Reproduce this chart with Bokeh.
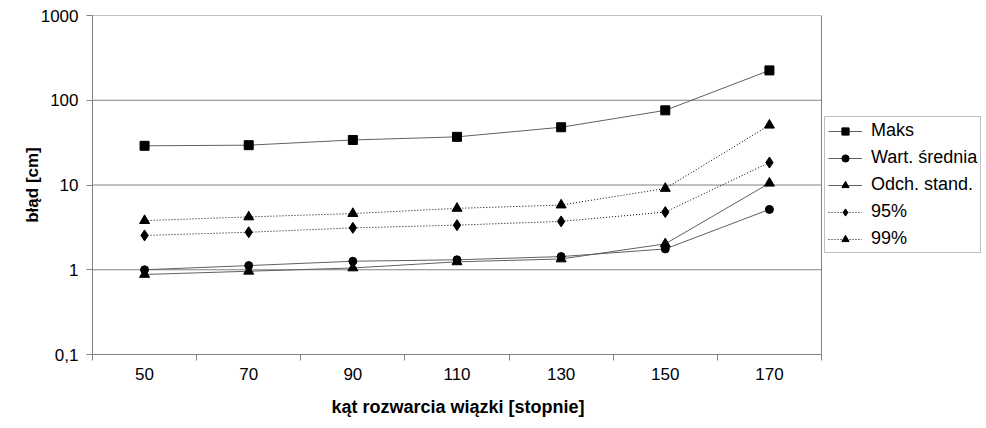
from bokeh.plotting import figure
from bokeh.models import FixedTicker, Legend, LegendItem, Range1d, Span, Title
from bokeh.embed import file_html
from bokeh.resources import INLINE

angles = [50, 70, 90, 110, 130, 150, 170]
maks = [29, 29.5, 34, 37, 48, 76, 225]
srednia = [1.0, 1.12, 1.26, 1.31, 1.43, 1.76, 5.15]
odch = [0.88, 0.96, 1.05, 1.24, 1.34, 2.02, 10.5]
p95 = [2.54, 2.77, 3.12, 3.36, 3.72, 4.79, 18.4]
p99 = [3.8, 4.2, 4.6, 5.3, 5.8, 9.1, 50.8]
y_ticks = [0.1, 1, 10, 100, 1000]
y_tick_labels = ["0,1", "1", "10", "100", "1000"]
x_bounds = [40, 60, 80, 100, 120, 140, 160, 180]

FONT = "Liberation Sans"
GRAY = "#808080"

# plot area spans x 40..180; the frame is widened to the right so the
# legend can sit beside the plot area without being clipped
x_end = 40 + (985 - 92) / (821 - 92) * 140

p = figure(width=986, height=428, y_axis_type="log",
           x_range=Range1d(40, x_end), y_range=Range1d(0.1, 1000),
           output_backend="svg", toolbar_location=None,
           min_border_left=92, min_border_right=1,
           min_border_top=15, min_border_bottom=74)
p.outline_line_color = None
p.background_fill_color = "white"
p.border_fill_color = "white"

p.xgrid.visible = False
p.ygrid.visible = False
p.segment(x0=x_bounds[0], x1=x_bounds[-1], y0=y_ticks, y1=y_ticks,
          line_color=GRAY, line_width=1)
p.add_layout(Span(location=x_bounds[-1], dimension="height",
                  line_color=GRAY, line_width=1))

# y axis
p.yaxis.ticker = FixedTicker(ticks=y_ticks)
p.yaxis.major_label_overrides = {t: l for t, l in zip(y_ticks, y_tick_labels)}
p.yaxis.major_tick_out = 6
p.yaxis.major_tick_in = 0
p.yaxis.minor_tick_out = 0
p.yaxis.minor_tick_in = 0
p.yaxis.axis_line_color = GRAY
p.yaxis.major_tick_line_color = GRAY
p.yaxis.major_label_text_font = FONT
p.yaxis.major_label_text_font_size = "17px"
p.yaxis.major_label_text_color = "black"
p.yaxis.major_label_standoff = 8
p.yaxis.axis_label = "błąd [cm]"
p.yaxis.axis_label_text_font = FONT
p.yaxis.axis_label_text_font_style = "bold"
p.yaxis.axis_label_text_font_size = "17px"
p.yaxis.axis_label_text_color = "black"
p.yaxis.axis_label_standoff = -4

# x axis
p.xaxis.ticker = FixedTicker(ticks=angles, minor_ticks=x_bounds)
p.xaxis.bounds = (x_bounds[0], x_bounds[-1])
p.xaxis.major_tick_out = 0
p.xaxis.major_tick_in = 0
p.xaxis.minor_tick_out = 6
p.xaxis.minor_tick_in = 0
p.xaxis.minor_tick_line_color = GRAY
p.xaxis.axis_line_color = GRAY
p.xaxis.major_label_text_font = FONT
p.xaxis.major_label_text_font_size = "17px"
p.xaxis.major_label_text_color = "black"
p.xaxis.major_label_standoff = 7

xlabel = Title(text="kąt rozwarcia wiązki [stopnie]", align="left", offset=239,
               text_font=FONT, text_font_style="bold", text_font_size="18px",
               text_color="black", standoff=24)
p.add_layout(xlabel, "below")

LINE = "#606060"
items = []
series = [
    ("Maks", maks, "square", 9, "solid", LINE),
    ("Wart. średnia", srednia, "circle", 8, "solid", LINE),
    ("Odch. stand.", odch, "triangle", 10, "solid", LINE),
    ("95%", p95, "diamond", 11, "1 2", "black"),
    ("99%", p99, "triangle", 10, "1 2", "black"),
]
for name, vals, marker, size, dash, lc in series:
    l = p.line(angles, vals, line_color=lc, line_width=1, line_dash=dash)
    s = p.scatter(angles, vals, marker=marker, size=size,
                  fill_color="black", line_color="black")
    items.append(LegendItem(label=name, renderers=[l, s]))

legend = Legend(items=items, location=(732, 101))
legend.label_text_font = FONT
legend.label_text_font_size = "18px"
legend.label_text_color = "black"
legend.glyph_width = 34
legend.glyph_height = 18
legend.label_height = 18
legend.spacing = 6
legend.padding = 3
legend.margin = 0
legend.border_line_color = GRAY
legend.border_line_width = 1
legend.background_fill_alpha = 1
legend.label_standoff = 9
p.add_layout(legend, "center")

open("out.html", "w").write(file_html(p, INLINE))
